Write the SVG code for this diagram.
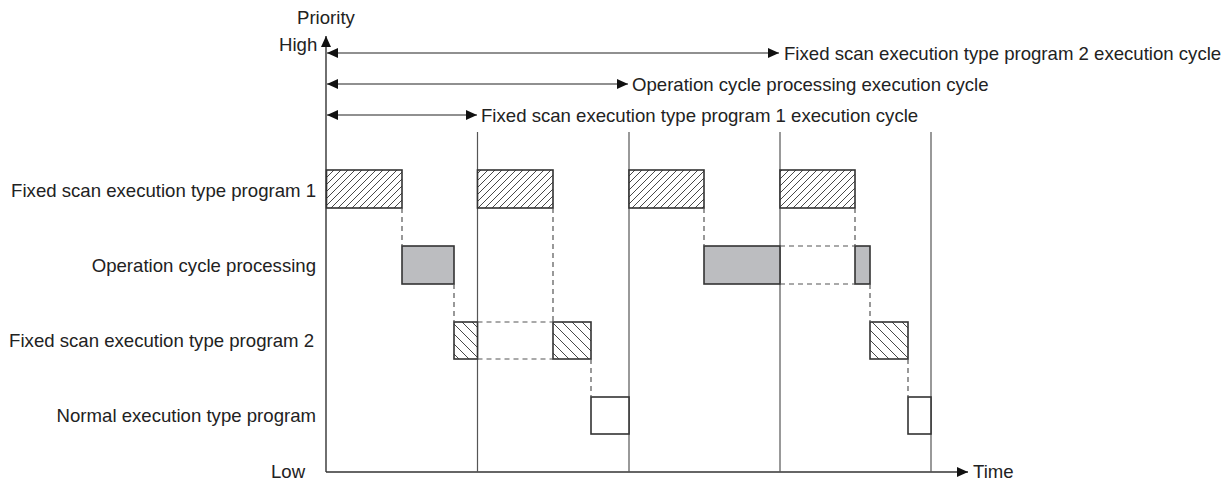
<svg xmlns="http://www.w3.org/2000/svg" width="1230" height="481" viewBox="0 0 1230 481">
<style>
text{font-family:"Liberation Sans",Arial,sans-serif;font-size:18.6px;fill:#222}
.r{text-anchor:end}
.axis{stroke:#333;stroke-width:1.4;fill:none}
.grid{stroke:#555;stroke-width:1.2;fill:none}
.dash{stroke:#555;stroke-width:1.2;stroke-dasharray:5,4;fill:none}
.bar{stroke:#333;stroke-width:1.6}
.h1{fill:url(#hatch1)}
.h2{fill:url(#hatch2)}
.gray{fill:#bcbdc0}
.white{fill:#fff}
.cyc{stroke:#222;stroke-width:1.2;fill:none}
</style>
<defs>
<pattern id="hatch1" patternUnits="userSpaceOnUse" width="7" height="7">
<rect width="7" height="7" fill="#fff"/>
<path d="M-1,1 L1,-1 M0,7 L7,0 M6,8 L8,6" stroke="#333" stroke-width="0.9"/>
</pattern>
<pattern id="hatch2" patternUnits="userSpaceOnUse" width="10" height="10">
<rect width="10" height="10" fill="#fff"/>
<path d="M0,0 L10,10 M-1,9 L1,11 M9,-1 L11,1" stroke="#333" stroke-width="0.9"/>
</pattern>
<marker id="ah" markerUnits="userSpaceOnUse" markerWidth="12" markerHeight="11" refX="11" refY="5.5" orient="auto-start-reverse">
<path d="M0,0.5 L11,5.5 L0,10.5 Z" fill="#111"/>
</marker>
</defs>

<g id="axes">
<line class="axis" x1="326" y1="472" x2="326" y2="36" marker-end="url(#ah)"/>
<line class="axis" x1="326" y1="472" x2="968" y2="472" marker-end="url(#ah)"/>
<text x="297" y="24">Priority</text>
<text x="279" y="51">High</text>
<text x="271" y="478">Low</text>
<text x="973" y="478">Time</text>
</g>

<g id="grid">
<line class="grid" x1="477.5" y1="132" x2="477.5" y2="472"/>
<line class="grid" x1="629" y1="132" x2="629" y2="472"/>
<line class="grid" x1="780" y1="132" x2="780" y2="472"/>
<line class="grid" x1="931" y1="132" x2="931" y2="472"/>
</g>

<g id="labels">
<text class="r" x="316" y="197">Fixed scan execution type program 1</text>
<text class="r" x="316" y="272">Operation cycle processing</text>
<text class="r" x="314" y="347">Fixed scan execution type program 2</text>
<text class="r" x="316" y="422">Normal execution type program</text>
</g>

<g id="cycle-fs2">
<line class="cyc" x1="327" y1="53" x2="779" y2="53" marker-start="url(#ah)" marker-end="url(#ah)"/>
<text x="784" y="60">Fixed scan execution type program 2 execution cycle</text>
</g>
<g id="cycle-op">
<line class="cyc" x1="327" y1="84" x2="628" y2="84" marker-start="url(#ah)" marker-end="url(#ah)"/>
<text x="632" y="91">Operation cycle processing execution cycle</text>
</g>
<g id="cycle-fs1">
<line class="cyc" x1="327" y1="115" x2="477" y2="115" marker-start="url(#ah)" marker-end="url(#ah)"/>
<text x="481" y="122">Fixed scan execution type program 1 execution cycle</text>
</g>

<g id="fs1-bars">
<rect class="bar h1" x="326.5" y="170" width="75.5" height="38"/>
<rect class="bar h1" x="477.5" y="170" width="75.5" height="38"/>
<rect class="bar h1" x="629" y="170" width="75" height="38"/>
<rect class="bar h1" x="780" y="170" width="75" height="38"/>
</g>

<g id="op-bars">
<rect class="bar gray" x="402" y="246" width="52" height="38"/>
<rect class="bar gray" x="704" y="246" width="76" height="38"/>
<rect class="bar gray" x="855" y="246" width="15" height="38"/>
</g>

<g id="fs2-bars">
<rect class="bar h2" x="454" y="322" width="23.5" height="37"/>
<rect class="bar h2" x="553" y="322" width="38" height="37"/>
<rect class="bar h2" x="870" y="322" width="38" height="37"/>
</g>

<g id="normal-bars">
<rect class="bar white" x="591" y="397" width="38" height="37"/>
<rect class="bar white" x="908" y="397" width="23" height="37"/>
</g>

<g id="connectors">
<line class="dash" x1="402" y1="208" x2="402" y2="246"/>
<line class="dash" x1="454" y1="284" x2="454" y2="322"/>
<line class="dash" x1="553" y1="208" x2="553" y2="322"/>
<line class="dash" x1="591" y1="359" x2="591" y2="397"/>
<line class="dash" x1="704" y1="208" x2="704" y2="246"/>
<line class="dash" x1="855" y1="208" x2="855" y2="246"/>
<line class="dash" x1="870" y1="284" x2="870" y2="322"/>
<line class="dash" x1="908" y1="359" x2="908" y2="397"/>
<line class="dash" x1="780" y1="246" x2="855" y2="246"/>
<line class="dash" x1="780" y1="284" x2="855" y2="284"/>
<line class="dash" x1="477.5" y1="322" x2="553" y2="322"/>
<line class="dash" x1="477.5" y1="359" x2="553" y2="359"/>
</g>
</svg>
